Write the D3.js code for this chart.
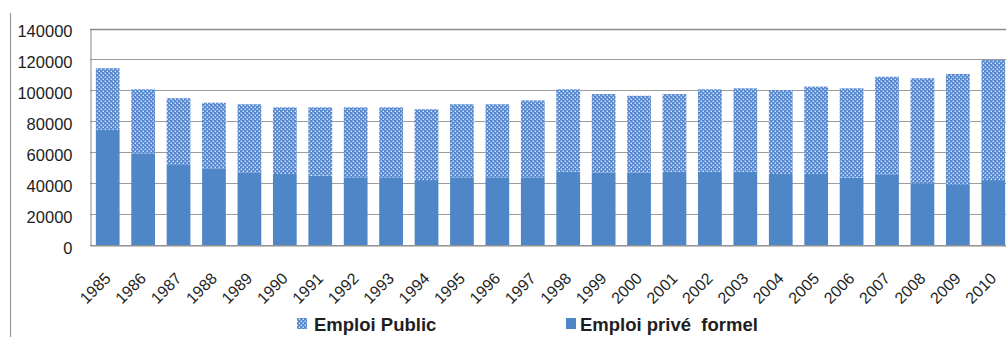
<!DOCTYPE html>
<html>
<head>
<meta charset="utf-8">
<script src="https://cdn.jsdelivr.net/npm/d3@7"></script>
<style>
  html, body { margin: 0; padding: 0; background: #fff; }
  svg { display: block; }
  text { font-family: "Liberation Sans", Arial, sans-serif; fill: #1e1e1e; }
</style>
</head>
<body>
<svg id="chart" width="1006" height="337"></svg>
<script>
const years = ["1985","1986","1987","1988","1989","1990","1991","1992","1993","1994","1995","1996","1997","1998","1999","2000","2001","2002","2003","2004","2005","2006","2007","2008","2009","2010"];
const emploiPrive = [74400,59300,51700,49600,47000,45900,44800,43800,43800,42000,43800,43800,43800,47400,46800,46800,47400,47400,47400,45900,45900,43500,45300,39900,38800,42000];
const emploiPublic = [39900,41400,43200,42400,44000,43100,44200,45200,45200,45800,47200,47200,49700,53300,50800,49700,50200,53300,53900,54300,56500,57800,63500,67900,71800,77600];
const yTicks = [0,20000,40000,60000,80000,100000,120000,140000];
const seriesNames = ["Emploi Public", "Emploi priv\u00e9  formel"];

const svg = d3.select("#chart");
const W = 1006, H = 337;
const mLeft = 90, mRight = 1011, mTop = 28.5, mBottom = 245;

// pattern for public employment
const defs = svg.append("defs");
const pat = defs.append("pattern").attr("id","dots").attr("patternUnits","userSpaceOnUse")
  .attr("width",4).attr("height",4);
pat.append("rect").attr("width",4).attr("height",4).attr("fill","#5889cf");
pat.append("rect").attr("x",0.6).attr("y",0.6).attr("width",1.4).attr("height",1.4).attr("fill","#dbe8f8");
pat.append("rect").attr("x",2.6).attr("y",2.6).attr("width",1.4).attr("height",1.4).attr("fill","#dbe8f8");

const x = d3.scaleBand().domain(years).range([mLeft, mRight]).paddingInner(0.33).paddingOuter(0.165);
const y = d3.scaleLinear().domain([0,140000]).range([mBottom, mTop]);

// outer border line
svg.append("line").attr("x1",10.5).attr("x2",10.5).attr("y1",13).attr("y2",H)
  .attr("stroke","#9a9a9a").attr("stroke-width",1.2);

// gridlines
svg.append("g").selectAll("line").data(yTicks).join("line")
  .attr("x1",mLeft).attr("x2",W)
  .attr("y1",d=>Math.round(y(d))+0.5).attr("y2",d=>Math.round(y(d))+0.5)
  .attr("stroke", d => d===140000 ? "#8a8a8a" : "#9c9c9c").attr("stroke-width", d=> d===140000?1.6:1);

// y axis
const yAxis = d3.axisLeft(y).tickValues(yTicks).tickFormat(d3.format("d")).tickSize(0).tickPadding(18);
const gy = svg.append("g").attr("transform",`translate(${mLeft+0.5},0)`).call(yAxis);
gy.select(".domain").attr("stroke","#8a8a8a");
gy.selectAll("text").attr("font-size","16.5px").attr("font-family","Liberation Sans, Arial, sans-serif")
  .attr("fill","#1e1e1e").attr("dy","0.5em");

// bars
const data = years.map((yr,i)=>({year:yr, prive:emploiPrive[i], pub:emploiPublic[i]}));
svg.append("g").selectAll("rect").data(data).join("rect")
  .attr("x",d=>x(d.year)).attr("width",x.bandwidth())
  .attr("y",d=>y(d.prive)).attr("height",d=>y(0)-y(d.prive))
  .attr("fill","#4f86c8");
svg.append("g").selectAll("rect").data(data).join("rect")
  .attr("x",d=>x(d.year)).attr("width",x.bandwidth())
  .attr("y",d=>y(d.prive+d.pub)).attr("height",d=>y(d.prive)-y(d.prive+d.pub))
  .attr("fill","url(#dots)");

// x axis
const xAxis = d3.axisBottom(x).tickSize(0).tickPadding(0);
const gx = svg.append("g").attr("transform",`translate(0,${mBottom+0.5})`).call(xAxis);
gx.select(".domain").attr("stroke","#8a8a8a");
gx.selectAll("text").attr("font-size","16px").attr("font-family","Liberation Sans, Arial, sans-serif")
  .attr("fill","#1e1e1e")
  .attr("text-anchor","end")
  .attr("dy",null)
  .attr("y",0)
  .attr("transform", "translate(4,34) rotate(-45)");

// legend
const lg = svg.append("g");
lg.append("rect").attr("x",297).attr("y",318).attr("width",10).attr("height",11).attr("fill","url(#dots)");
lg.append("text").attr("x",314).attr("y",331).attr("font-size","18.5px").attr("font-weight","bold")
  .style("white-space","pre").text(seriesNames[0]);
lg.append("rect").attr("x",566).attr("y",318).attr("width",10).attr("height",11).attr("fill","#4f86c8");
lg.append("text").attr("x",580).attr("y",331).attr("font-size","18.5px").attr("font-weight","bold")
  .style("white-space","pre").text(seriesNames[1]);
</script>
</body>
</html>
